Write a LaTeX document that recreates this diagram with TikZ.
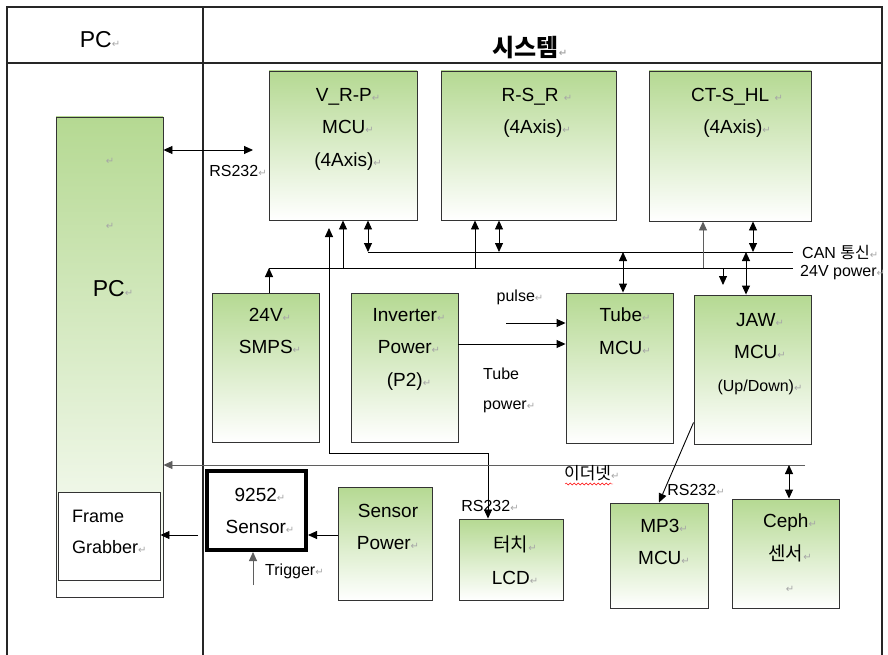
\documentclass[tikz,border=0pt]{standalone}
\usepackage{fontspec}
\setmainfont{Liberation Sans}
\newfontfamily\kr{Noto Sans CJK KR}
\newfontfamily\retfont{DejaVu Sans}
\usetikzlibrary{arrows.meta, decorations.pathmorphing}
\definecolor{boxgreen}{RGB}{181,217,146}
\definecolor{linegray}{RGB}{95,95,95}
\newcommand{\retmark}{{\retfont\fontsize{10}{10}\selectfont\textcolor{gray!70}{↵}}}

\begin{document}
\begin{tikzpicture}[x=1pt, y=-1pt, >={Triangle[length=9pt, width=8pt]},
    box/.style={draw=black!80, line width=0.9pt, top color=boxgreen, bottom color=white, inner sep=0pt},
    whitebox/.style={draw=black!80, line width=0.9pt, fill=white, inner sep=0pt},
    txt/.style={align=center, inner sep=0pt, anchor=north, font=\fontsize{19}{32.5}\selectfont},
    lbl/.style={inner sep=0pt, font=\fontsize{16}{18}\selectfont},
    conn/.style={line width=0.9pt}]
  \useasboundingbox (0,0) rectangle (888,655);

  % table
  \draw[line width=1.2pt, black!85] (7,655) -- (7,7) -- (882,7) -- (882,655);
  \draw[line width=1.2pt, black!85] (7,63) -- (882,63);
  \draw[line width=1.2pt, black!85] (203,7) -- (203,655);
  \node[lbl, font=\fontsize{23}{24}\selectfont] (pchead) at (100,40) {PC\retmark};
  \node[lbl, font=\fontsize{24}{26}\selectfont\kr\bfseries] (syshead) at (530,48) {시스템\retmark};

  % boxes
  \node[box, minimum width=107pt, minimum height=480pt] (pcbox) at (109.5,357) {};
  \node[whitebox, minimum width=102pt, minimum height=88pt] (fg) at (109,536) {};
  \node[box, minimum width=148pt, minimum height=149pt] (vrp) at (343,145.5) {};
  \node[box, minimum width=175pt, minimum height=149pt] (rsr) at (528.5,145.5) {};
  \node[box, minimum width=162pt, minimum height=150pt] (cts) at (730,146) {};
  \node[box, minimum width=107pt, minimum height=149pt] (smps) at (265.5,367.5) {};
  \node[box, minimum width=107pt, minimum height=149pt] (inv) at (404.5,367.5) {};
  \node[box, minimum width=107pt, minimum height=150pt] (tube) at (619.5,368) {};
  \node[box, minimum width=117pt, minimum height=149pt] (jaw) at (752.5,369.5) {};
  \node[whitebox, draw=black, line width=4pt, minimum width=99pt, minimum height=79pt] (sens) at (256.5,510.5) {};
  \node[box, minimum width=94pt, minimum height=113pt] (spow) at (385,543.5) {};
  \node[box, minimum width=104pt, minimum height=81pt] (lcd) at (511,559.5) {};
  \node[box, minimum width=98pt, minimum height=105pt] (mp3) at (659,555.5) {};
  \node[box, minimum width=107pt, minimum height=109pt] (ceph) at (785.5,553.5) {};

  % box texts
  \node[lbl] (pcr1) at (110,161) {\retmark};
  \node[lbl] (pcr2) at (110,226) {\retmark};
  \node[lbl, font=\fontsize{23}{24}\selectfont] (pct) at (113,289) {PC\retmark};
  \node[txt, anchor=north west, align=left, font=\fontsize{18}{31}\selectfont] (fgt) at (72,510) {Frame\\Grabber\retmark};
  \node[txt] (vrpt) at (348,88) {V\_R-P\retmark\\MCU\retmark\\(4Axis)\retmark};
  \node[txt] (rsrt) at (537,88) {R-S\_R \retmark\\(4Axis)\retmark};
  \node[txt] (ctst) at (737,88) {CT-S\_HL \retmark\\(4Axis)\retmark};
  \node[txt] (smpst) at (270,308) {24V\retmark\\SMPS\retmark};
  \node[txt] (invt) at (409,308) {Inverter\retmark\\Power\retmark\\(P2)\retmark};
  \node[txt] (tubet) at (625,308) {Tube\retmark\\MCU\retmark};
  \node[txt] (jawt) at (760,313) {JAW\retmark\\MCU\retmark\\{\fontsize{16}{18}\selectfont(Up/Down)}\retmark};
  \node[txt] (senst) at (260,488) {9252\retmark\\Sensor\retmark};
  \node[txt] (spowt) at (388,504) {Sensor\\Power\retmark};
  \node[txt] (lcdt) at (515,536) {{\kr 터치}\retmark\\LCD\retmark};
  \node[txt] (mp3t) at (664,519) {MP3\retmark\\MCU\retmark};
  \node[txt] (ceplt) at (790,514) {Ceph\retmark\\{\kr 센서}\retmark\\\retmark};

  % buses
  \coordinate (can-a) at (368,252);
  \coordinate (can-b) at (793,252);
  \coordinate (pw-a) at (269,268);
  \coordinate (pw-b) at (793,268);
  \coordinate (eth-a) at (805,465);
  \draw[conn] (can-a) -- (can-b);
  \draw[conn] (pw-a) -- (pw-b);
  \node[lbl, anchor=west] (canl) at (802,252) {CAN {\kr 통신}\retmark};
  \node[lbl, anchor=west] (pwl) at (800,273) {24V power\retmark};

  % taps on the buses
  \coordinate (t1) at (343,268);
  \coordinate (t2) at (475,268);
  \coordinate (t3) at (499,252);
  \coordinate (t4) at (703,268);
  \coordinate (t5) at (753,252);
  \coordinate (t6) at (623,252);
  \coordinate (t7) at (723,268);
  \coordinate (t8) at (746,252);
  \draw[conn, <->] (can-a) -- (can-a |- vrp.south);
  \draw[conn, ->] (t1) -- (t1 |- vrp.south);
  \draw[conn, ->] (t2) -- (t2 |- rsr.south);
  \draw[conn, <->] (t3) -- (t3 |- rsr.south);
  \draw[conn, ->, linegray] (t4) -- (t4 |- cts.south);
  \draw[conn, <->] (t5) -- (t5 |- cts.south);
  \draw[conn, <->] (t6) -- (t6 |- tube.north);
  \draw[conn, ->] (t7) -- ++(0,17);
  \draw[conn, <->] (t8) -- (t8 |- jaw.north);
  \draw[conn, ->] (pw-a |- smps.north) -- (pw-a);

  % RS232 to PC and to the touch LCD
  \coordinate (rs1) at (253,150);
  \draw[conn, <->] (rs1 -| pcbox.east) -- (rs1);
  \node[lbl] (rs1l) at (238,171) {RS232\retmark};
  \coordinate (rs2-a) at (329,228);
  \coordinate (rs2-b) at (329,453);
  \draw[conn, <->] (rs2-a) -- (rs2-b) -| ([xshift=-23pt]lcd.north);
  \node[lbl] (rs2l) at (490,506) {RS232\retmark};

  % pulse and tube power
  \coordinate (pulse-a) at (506,323);
  \draw[conn, ->] (pulse-a) -- (pulse-a -| tube.west);
  \node[lbl] (pulsel) at (520,297) {pulse\retmark};
  \coordinate (tp-a) at (458,344);
  \draw[conn, ->] (tp-a) -- (tp-a -| tube.west);
  \node[lbl, anchor=west] (tpl1) at (483,374) {Tube};
  \node[lbl, anchor=west] (tpl2) at (483,407) {power\retmark};

  % ethernet
  \draw[conn, ->, linegray] (eth-a) -- (eth-a -| pcbox.east);
  \node[lbl, anchor=west, font=\fontsize{17}{18}\selectfont\kr] (ethl) at (564,473) {이더넷\retmark};
  \draw[red, decorate, decoration={snake, amplitude=1pt, segment length=4pt}] (565,484) -- (613,484);
  \coordinate (eth-c) at (789,465);
  \draw[conn, <->] (eth-c) -- (eth-c |- ceph.north);

  % JAW to MP3
  \draw[conn, ->] ([yshift=22pt]jaw.south west) -- (mp3.north);
  \node[lbl] (rs3l) at (696,490) {RS232\retmark};

  % sensor side
  \coordinate (sp-a) at (338,535);
  \draw[conn, ->] (sp-a) -- (sp-a -| sens.east);
  \coordinate (fg-a) at (198,535);
  \draw[conn, ->] (fg-a) -- (fg-a -| fg.east);
  \coordinate (trg) at (253,585);
  \draw[conn, ->, linegray] (trg) -- (trg |- sens.south);
  \node[lbl, anchor=west] (trgl) at (265,571) {Trigger\retmark};
\end{tikzpicture}
\end{document}
